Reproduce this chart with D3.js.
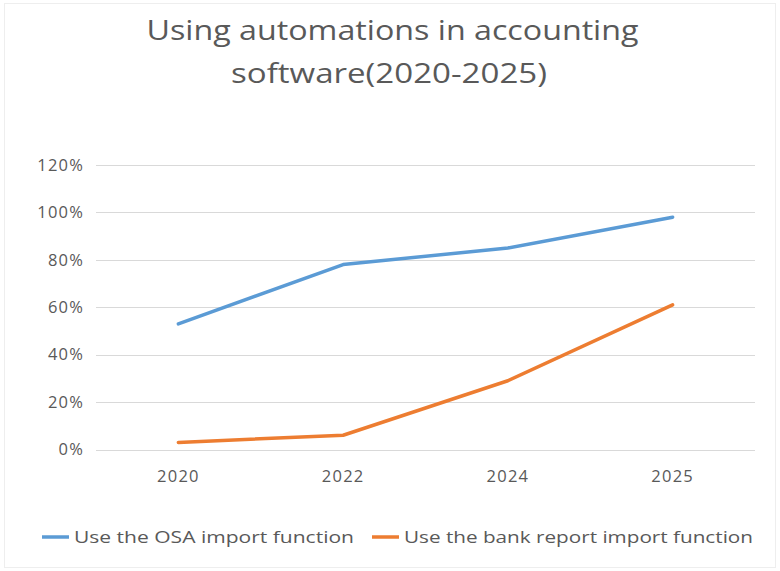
<!DOCTYPE html>
<html>
<head>
<meta charset="utf-8">
<script src="https://cdn.jsdelivr.net/npm/d3@7/dist/d3.min.js"></script>
<style>
  html, body { margin: 0; padding: 0; background: #fff; }
  svg { display: block; font-family: "Open Sans", "Lato", sans-serif; }
</style>
</head>
<body>
<svg id="chart" width="780" height="571"></svg>
<script>
// Share of users applying each automation, by year
const years = ["2020", "2022", "2024", "2025"];
const osaImport = [53, 78, 85, 98];
const bankReportImport = [3, 6, 29, 61];
const seriesNames = ["Use the OSA import function", "Use the bank report import function"];
const yTicks = [0, 20, 40, 60, 80, 100, 120];
const titleLines = ["Using automations in accounting", "software(2020-2025)"];

const colors = ["#5b9bd5", "#ed7d31"];
const textColor = "#595959";

const svg = d3.select("#chart");
const W = 780, H = 571;

// Faint outer frame of the chart area
svg.append("rect")
  .attr("x", 4.5).attr("y", 3.5)
  .attr("width", W - 9).attr("height", H - 7)
  .attr("fill", "#fff").attr("stroke", "#eeeeee");

// Title (two lines)
const titleLayout = [
  { cx: 392.5, y: 40, len: 492 },
  { cx: 389, y: 83, len: 316 }
];
titleLines.forEach((t, i) => {
  svg.append("text")
    .attr("x", titleLayout[i].cx - titleLayout[i].len / 2)
    .attr("y", titleLayout[i].y)
    .attr("fill", textColor)
    .attr("font-size", 28)
    .attr("textLength", titleLayout[i].len)
    .attr("lengthAdjust", "spacingAndGlyphs")
    .text(t);
});

const plot = { left: 96, right: 755, top: 165, bottom: 449.5 };

const x = d3.scaleBand().domain(years).range([plot.left, plot.right]);
const y = d3.scaleLinear().domain([0, 120]).range([plot.bottom, plot.top]);

// Horizontal gridlines
svg.append("g")
  .selectAll("line")
  .data(yTicks)
  .join("line")
  .attr("x1", plot.left).attr("x2", plot.right)
  .attr("y1", d => Math.round(y(d)) + 0.5)
  .attr("y2", d => Math.round(y(d)) + 0.5)
  .attr("stroke", "#d9d9d9")
  .attr("stroke-width", 1);

// Y axis labels
const yAxis = d3.axisLeft(y).tickValues(yTicks).tickFormat(d => d + "%").tickSize(0).tickPadding(0);
const gy = svg.append("g").attr("transform", `translate(84,0)`).call(yAxis);
gy.select(".domain").remove();
gy.selectAll("text")
  .attr("fill", textColor)
  .attr("font-size", 16.5)
  .attr("letter-spacing", 1.2)
  .attr("font-family", "'Open Sans', sans-serif");

// X axis labels
const xAxis = d3.axisBottom(x).tickSize(0).tickPadding(0);
const gx = svg.append("g").attr("transform", `translate(0,${plot.bottom + 21})`).call(xAxis);
gx.select(".domain").remove();
gx.selectAll("text")
  .attr("fill", textColor)
  .attr("font-size", 16.5)
  .attr("letter-spacing", 1.2)
  .attr("font-family", "'Open Sans', sans-serif");

// Lines
const line = d3.line()
  .x((d, i) => x(years[i]) + x.bandwidth() / 2)
  .y(d => y(d));

[osaImport, bankReportImport].forEach((vals, k) => {
  svg.append("path")
    .datum(vals)
    .attr("d", line)
    .attr("fill", "none")
    .attr("stroke", colors[k])
    .attr("stroke-width", 3.5)
    .attr("stroke-linejoin", "round")
    .attr("stroke-linecap", "round");
});

// Legend
const legendItems = [
  { x: 42, len: 280, label: seriesNames[0], color: colors[0] },
  { x: 372, len: 349, label: seriesNames[1], color: colors[1] }
];
const lg = svg.append("g").attr("transform", "translate(0,537)");
legendItems.forEach(it => {
  lg.append("line")
    .attr("x1", it.x).attr("x2", it.x + 27)
    .attr("y1", 0).attr("y2", 0)
    .attr("stroke", it.color).attr("stroke-width", 3.5);
  lg.append("text")
    .attr("x", it.x + 32).attr("y", 6)
    .attr("fill", textColor)
    .attr("font-size", 16.5)
    .attr("textLength", it.len)
    .attr("lengthAdjust", "spacingAndGlyphs")
    .text(it.label);
});
</script>
</body>
</html>
